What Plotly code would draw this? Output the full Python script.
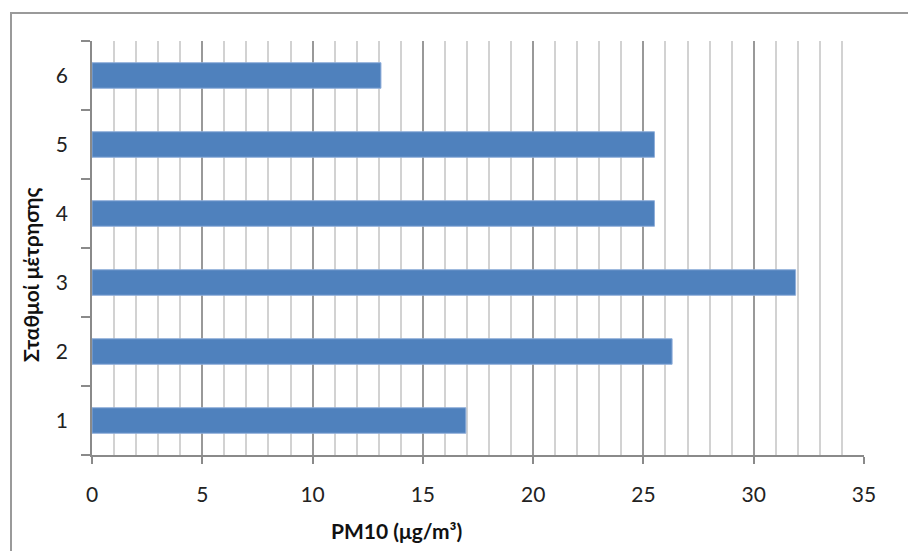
import plotly.graph_objects as go

stations = ["1", "2", "3", "4", "5", "6"]
pm10 = [16.95, 26.3, 31.9, 25.5, 25.5, 13.1]
x_ticks = [0, 5, 10, 15, 20, 25, 30, 35]

W, H = 908, 551
L, R, T, B = 92, 44, 41, 96
pw, ph = W - L - R, H - T - B

fig = go.Figure(go.Bar(
    x=pm10, y=stations, orientation="h",
    marker=dict(color="#4F81BD", line=dict(color="#8FAEDA", width=1)),
    width=0.37,
))

font = "Lato, 'Open Sans', sans-serif"

fig.update_layout(
    width=W, height=H,
    margin=dict(l=L, r=R, t=T, b=B),
    paper_bgcolor="white", plot_bgcolor="white",
    showlegend=False,
    font=dict(family=font, size=21, color="#222"),
)

fig.update_xaxes(
    range=[0, 35], tickvals=x_ticks, ticktext=[str(v) for v in x_ticks],
    showgrid=True, gridcolor="#999999", gridwidth=1.5,
    minor=dict(dtick=1, showgrid=True, gridcolor="#d2d2d2", gridwidth=1.5, ticks=""),
    showline=True, linecolor="#8a8a8a", linewidth=1.5,
    ticks="outside", ticklen=7, tickcolor="#8a8a8a", tickwidth=1.5,
    ticklabelstandoff=13, zeroline=False, fixedrange=True,
)

fig.update_yaxes(
    type="category", categoryorder="array", categoryarray=stations,
    range=[-0.5, 5.5],
    showgrid=False, showline=True, linecolor="#8a8a8a", linewidth=1.5,
    ticks="outside", ticklen=9, tickcolor="#8a8a8a", tickwidth=1.5,
    tickson="boundaries", ticklabelstandoff=18, fixedrange=True,
)

def px_to_paper_x(px):
    return (px - L) / pw

def px_to_paper_y(py):
    return 1 - (py - T) / ph

fig.add_annotation(
    text="<b>PM10 (μg/m³)</b>", xref="paper", yref="paper",
    x=px_to_paper_x(396), y=px_to_paper_y(530),
    showarrow=False, xanchor="center", yanchor="middle",
    font=dict(family=font, size=21, color="#111"),
)
fig.add_annotation(
    text="<b>Σταθμοί μέτρησης</b>", xref="paper", yref="paper",
    x=px_to_paper_x(30), y=px_to_paper_y(275),
    showarrow=False, xanchor="center", yanchor="middle", textangle=-90,
    font=dict(family=font, size=21, color="#111"),
)

# chart-area frame
fig.add_shape(
    type="rect", xref="paper", yref="paper",
    x0=px_to_paper_x(11), y0=px_to_paper_y(600),
    x1=px_to_paper_x(960), y1=px_to_paper_y(13),
    line=dict(color="#9a9a9a", width=2), fillcolor="rgba(0,0,0,0)", layer="below",
)

fig.write_html("out.html")
